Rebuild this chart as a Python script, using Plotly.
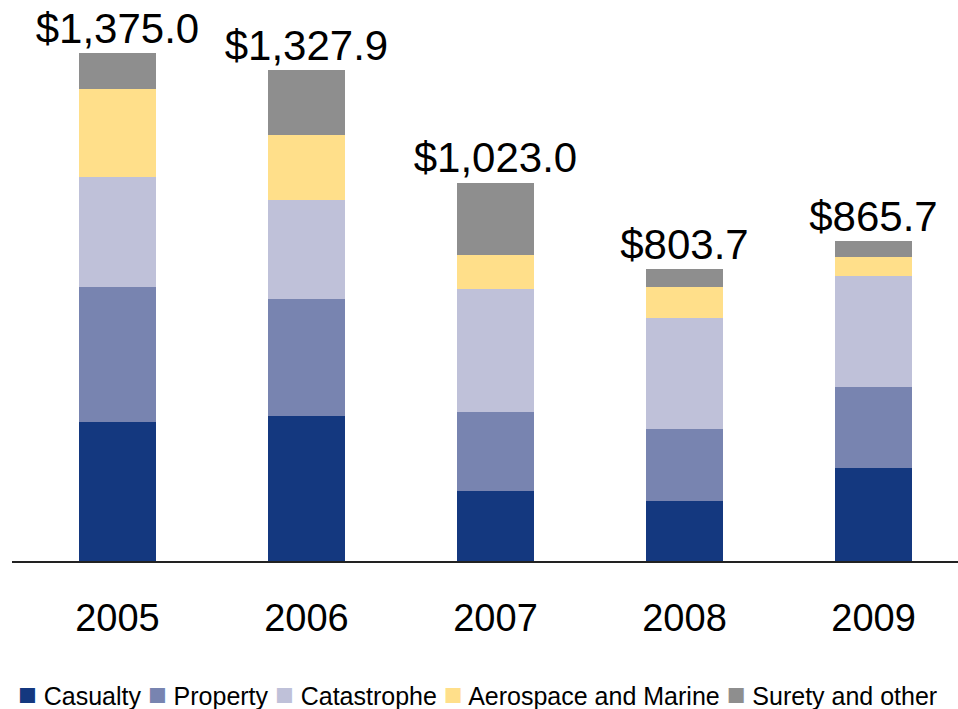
import plotly.graph_objects as go

years = ["2005", "2006", "2007", "2008", "2009"]

casualty = [376, 392, 189, 162, 252]
property_ = [365, 316, 214, 195, 219]
catastrophe = [298, 268, 333, 300, 300]
aerospace = [238, 176, 92, 84, 51]
surety = [97, 176, 195, 49, 43]

total_labels = ["$1,375.0", "$1,327.9", "$1,023.0", "$803.7", "$865.7"]

series = [
    ("Casualty", casualty, "#14387f"),
    ("Property", property_, "#7884b0"),
    ("Catastrophe", catastrophe, "#bfc1d9"),
    ("Aerospace and Marine", aerospace, "#ffdf8a"),
    ("Surety and other", surety, "#8e8e8e"),
]

fig = go.Figure()
for name, vals, col in series:
    fig.add_trace(go.Bar(x=years, y=vals, name=name, marker_color=col,
                         marker_line_width=0))

tops = [sum(v) for v in zip(casualty, property_, catastrophe, aerospace, surety)]
fig.add_trace(go.Scatter(x=years, y=tops, mode="text", text=total_labels,
                         textposition="top center",
                         textfont=dict(size=42, color="black"),
                         showlegend=False, cliponaxis=False))

# legend drawn as one line of text, like the original
legend_txt = " ".join(
    f'<span style="color:{col};font-size:31px">■</span> {name}'
    for name, vals, col in series)
fig.add_annotation(text=legend_txt, xref="paper", yref="paper", x=0.492, y=-0.238,
                   xanchor="center", yanchor="middle", showarrow=False,
                   font=dict(size=25, color="black"))

fig.update_layout(
    barmode="stack",
    bargap=0.59,
    width=958, height=709,
    margin=dict(l=12, r=0, t=0, b=148),
    paper_bgcolor="white",
    plot_bgcolor="white",
    showlegend=False,
    font=dict(family="Liberation Sans, Arial", color="black"),
)
fig.update_xaxes(range=[-0.558, 4.447], showline=True, linecolor="#222222", linewidth=2,
                 showgrid=False, ticks="", tickfont=dict(size=38),
                 ticklabelstandoff=22)
fig.update_yaxes(range=[0, 1518], visible=False)

fig.write_html("out.html", config={"displayModeBar": False},
               post_script="document.body.style.margin='0px';")
